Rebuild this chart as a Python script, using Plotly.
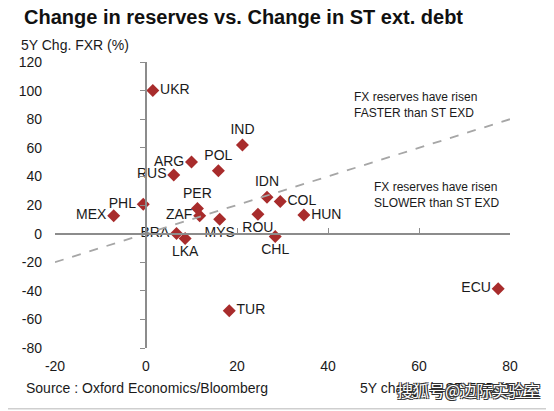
import plotly.graph_objects as go

countries = ["UKR", "IND", "ARG", "POL", "RUS", "IDN", "PHL", "PER", "ZAF", "MEX",
             "MYS", "ROU", "CHL", "COL", "HUN", "BRA", "LKA", "TUR", "ECU"]
st_exd_chg = [1.5, 21.2, 10.0, 15.9, 6.1, 26.6, -0.6, 11.3, 11.8, -7.1,
              16.2, 24.6, 28.4, 29.5, 34.7, 6.7, 8.6, 18.3, 77.4]
fxr_chg = [100, 62, 50, 44, 41, 25.5, 20.5, 17.5, 12.5, 12.5,
           10, 13.5, -2, 22.5, 13, 0, -3.5, -54, -38.5]
label_pos = ["middle right", "top center", "middle left", "top center", "middle left",
             "top center", "middle left", "top center", "middle left", "middle left",
             "bottom center", "bottom center", "bottom center", "middle right", "middle right",
             "middle left", "bottom center", "middle right", "middle left"]

line_x = [-20, 80]
line_y = [-20, 80]

x_ticks = [-20, 0, 20, 40, 60, 80]
x_tick_text = ["-20", "0", "20", "40", "60", "80"]
y_ticks = [-80, -60, -40, -20, 0, 20, 40, 60, 80, 100, 120]
y_tick_text = ["-80", "-60", "-40", "-20", "0", "20", "40", "60", "80", "100", "120"]

FONT = "Liberation Sans, Arial, Helvetica, sans-serif"
TXT = "#1a1a1a"
AX = "#8c8c8c"

# page body has an 8px default margin: figure is drawn 8px in from the top-left
W, H = 546, 403

fig = go.Figure()

fig.add_trace(go.Scatter(
    x=line_x, y=line_y, mode="lines",
    line=dict(color="#a6a6a6", width=1.8, dash="dash"),
    hoverinfo="skip", showlegend=False, xaxis="x2", yaxis="y2"))

fig.add_trace(go.Scatter(
    x=st_exd_chg, y=fxr_chg, mode="markers+text",
    text=countries, textposition=label_pos,
    textfont=dict(family=FONT, size=14, color=TXT),
    marker=dict(symbol="diamond", size=10, color="#a82c2c"),
    showlegend=False))

fig.update_layout(
    width=W, height=H,
    margin=dict(l=47, r=44, t=54, b=63),
    paper_bgcolor="white", plot_bgcolor="white",
    font=dict(family=FONT, size=14, color=TXT),
    title=dict(text="<b>Change in reserves vs. Change in ST ext. debt</b>",
               x=(24-8)/W, xanchor="left", xref="container",
               y=1-(17-8)/H, yanchor="middle", yref="container",
               font=dict(family=FONT, size=20, color="#111")),
    xaxis=dict(range=[-20, 80], tickvals=x_ticks, ticktext=x_tick_text,
               showgrid=False, zeroline=False,
               showline=False, ticks="", ticklabelstandoff=8,
               tickfont=dict(size=14, color=TXT)),
    yaxis=dict(range=[-80, 120], tickvals=y_ticks, ticktext=y_tick_text,
               showgrid=False, zeroline=False,
               showline=False, ticks="", ticklabelstandoff=12,
               tickfont=dict(size=14, color=TXT)),
    xaxis2=dict(range=[-20, 80], tickvals=x_ticks, overlaying="x", anchor="free",
                position=0.4, showline=True, linecolor=AX, linewidth=1.5,
                ticks="inside", ticklen=5, tickcolor=AX, tickwidth=1.2,
                showticklabels=False, showgrid=False, zeroline=False),
    yaxis2=dict(range=[-80, 120], tickvals=y_ticks, overlaying="y", anchor="free",
                position=0.2, showline=True, linecolor=AX, linewidth=1.5,
                ticks="outside", ticklen=5, tickcolor=AX, tickwidth=1.2,
                showticklabels=False, showgrid=False, zeroline=False),
    annotations=[
        dict(text="5Y Chg. FXR (%)", xref="paper", yref="paper",
             x=(19-54.6)/455, y=1+(61.7-45)/286, xanchor="left", yanchor="middle",
             showarrow=False, font=dict(size=14, color=TXT)),
        dict(text="FX reserves have risen<br>FASTER than ST EXD", xref="x", yref="y",
             x=45.2, y=90, xanchor="left", yanchor="middle", align="left",
             showarrow=False, font=dict(size=12, color=TXT)),
        dict(text="FX reserves have risen<br>SLOWER than ST EXD", xref="x", yref="y",
             x=49.6, y=27, xanchor="left", yanchor="middle", align="left",
             showarrow=False, font=dict(size=12, color=TXT)),
        dict(text="Source : Oxford Economics/Bloomberg", xref="paper", yref="paper",
             x=(24-54.6)/455, y=(348.3-388)/286, xanchor="left", yanchor="middle",
             showarrow=False, font=dict(size=14, color=TXT)),
        dict(text="5Y change in ST EXD (%)", xref="paper", yref="paper",
             x=(358-54.6)/455, y=(348.3-388)/286, xanchor="left", yanchor="middle",
             showarrow=False, font=dict(size=14, color=TXT)),
        dict(text="搜狐号@边际实验室", xref="paper", yref="paper",
             x=(395-54.6)/455, y=(348.3-390)/286, xanchor="left", yanchor="middle",
             showarrow=False,
             font=dict(family="Noto Sans CJK SC", size=16, color="white",
                       shadow="1px 1px 0 #333, -1px -1px 0 #333, 1px -1px 0 #333, -1px 1px 0 #333")),
    ],
    shapes=[
        dict(type="line", xref="paper", yref="paper",
             x0=-55/455, x1=(560-54.6)/455,
             y0=(348.3-409)/286, y1=(348.3-409)/286,
             line=dict(color="#cfcfcf", width=1.5)),
    ],
)

fig.write_html("out.html")
